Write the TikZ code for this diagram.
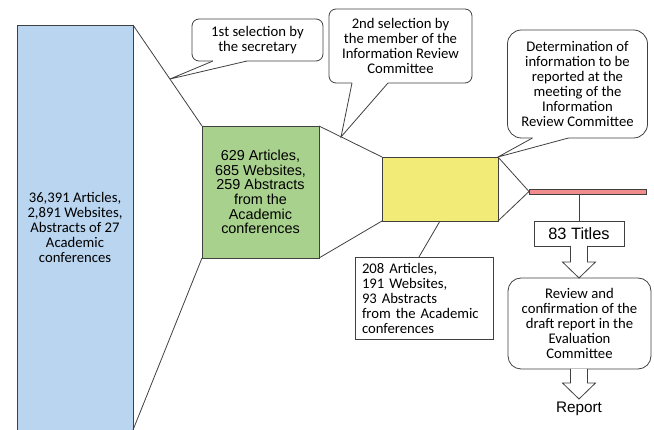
\documentclass[tikz,border=0pt]{standalone}
\usepackage{fontspec}
\setmainfont{Carlito}
\newfontfamily\arialf{Liberation Sans}
\usetikzlibrary{calc}
\definecolor{edge}{HTML}{404040}
\definecolor{stageA}{HTML}{B9D5F0}
\definecolor{stageB}{HTML}{A9D18E}
\definecolor{stageC}{HTML}{F2EB78}
\definecolor{stageD}{HTML}{F08C8C}
\begin{document}
\begin{tikzpicture}[x=1pt,y=-1pt,
  edgeline/.style={draw=edge, line width=0.8pt},
  stagebox/.style={draw=edge, line width=0.8pt, inner sep=0pt, outer sep=0pt,
    align=center, font=\fontsize{14.7}{15}\selectfont},
  callbox/.style={stagebox, fill=white, rounded corners=7pt},
  hollowarrow/.style={edgeline, fill=white, line join=miter}]
\useasboundingbox (0,0) rectangle (654,430);

% funnel stages
\node[stagebox, fill=stageA, minimum width=116pt, minimum height=405pt] (blue) at (75,227.5)
  {36,391 Articles,\\2,891 Websites,\\Abstracts of 27\\Academic\\conferences};
\node[stagebox, fill=stageB, minimum width=117pt, minimum height=132pt,
  font=\arialf\fontsize{14.4}{14.6}\selectfont] (green) at (260.5,192)
  {629 Articles,\\685 Websites,\\259 Abstracts\\from the\\Academic\\conferences};
\node[stagebox, fill=stageC, minimum width=116pt, minimum height=64pt] (yellow) at (440,189) {};
\node[stagebox, fill=stageD, minimum width=117pt, minimum height=5pt] (red) at (587.5,191.5) {};

% funnel edges
\draw[edgeline] (blue.north east) -- (green.north west);
\draw[edgeline] (blue.south east) -- (green.south west);
\draw[edgeline] (green.north east) -- (yellow.north west);
\draw[edgeline] (green.south east) -- (yellow.south west);
\draw[edgeline] (yellow.north east) -- (red.west);
\draw[edgeline] (yellow.south east) -- (red.west);

% callouts
\coordinate (t1) at ($(blue.north east)!0.535!(green.north west)$);
\coordinate (t2) at ($(green.north east)!0.35!(yellow.north west)$);
\coordinate (t3) at (yellow.north east);

\node[callbox, minimum width=131pt, minimum height=42pt] (c1) at (257.5,40)
  {1st selection by\\the secretary};
\node[callbox, minimum width=143pt, minimum height=74pt] (c2) at (400.5,46)
  {2nd selection by\\the member of the\\Information Review\\Committee};
\node[callbox, rounded corners=14pt, minimum width=140pt, minimum height=108pt] (c3) at (577.5,84)
  {Determination of\\information to be\\reported at the\\meeting of the\\Information\\Review Committee};

\foreach \c/\t/\a/\b in {c1/t1/21/55, c2/t2/23/59, c3/t3/25/61}{
  \fill[white] ($(\c.south west)+(\a,-1.2)$) -- ($(\c.south west)+(\a,0)$) -- (\t)
    -- ($(\c.south west)+(\b,0)$) -- ($(\c.south west)+(\b,-1.2)$) -- cycle;
  \draw[edgeline] ($(\c.south west)+(\a,0)$) -- (\t) -- ($(\c.south west)+(\b,0)$);
}

% result of the second selection
\node[stagebox, minimum width=138pt, minimum height=82pt, align=left, text width=124pt] (box208) at (424,298)
  {208 Articles,\\191 Websites,\\93 Abstracts\\from the Academic\\conferences};
\draw[edgeline] (yellow.south) -- ($(box208.north)+(-5,0)$);

% final steps
\node[stagebox, minimum width=90pt, minimum height=25pt,
  font=\arialf\fontsize{16.4}{17}\selectfont] (titles) at (579,233.5) {83 Titles};
\draw[edgeline] (titles.north |- red.south) -- (titles.north);

\node[callbox, rounded corners=13pt, minimum width=143pt, minimum height=91pt] (review) at (579.5,323.5)
  {Review and\\confirmation of the\\draft report in the\\Evaluation\\Committee};

\node[font=\arialf\fontsize{15.3}{16}\selectfont, inner sep=0pt] (report) at (579,409) {Report};

\draw[hollowarrow] ($(titles.south)+(-8.5,0)$) -- ++(0,16) -- ++(-8,0) -- ++(16.5,16)
  -- ++(16.5,-16) -- ++(-8,0) -- ++(0,-16);
\draw[hollowarrow] ($(titles.south |- review.south)+(-8.5,0)$) -- ++(0,14) -- ++(-8,0) -- ++(16.5,16)
  -- ++(16.5,-16) -- ++(-8,0) -- ++(0,-14);
\end{tikzpicture}
\end{document}
